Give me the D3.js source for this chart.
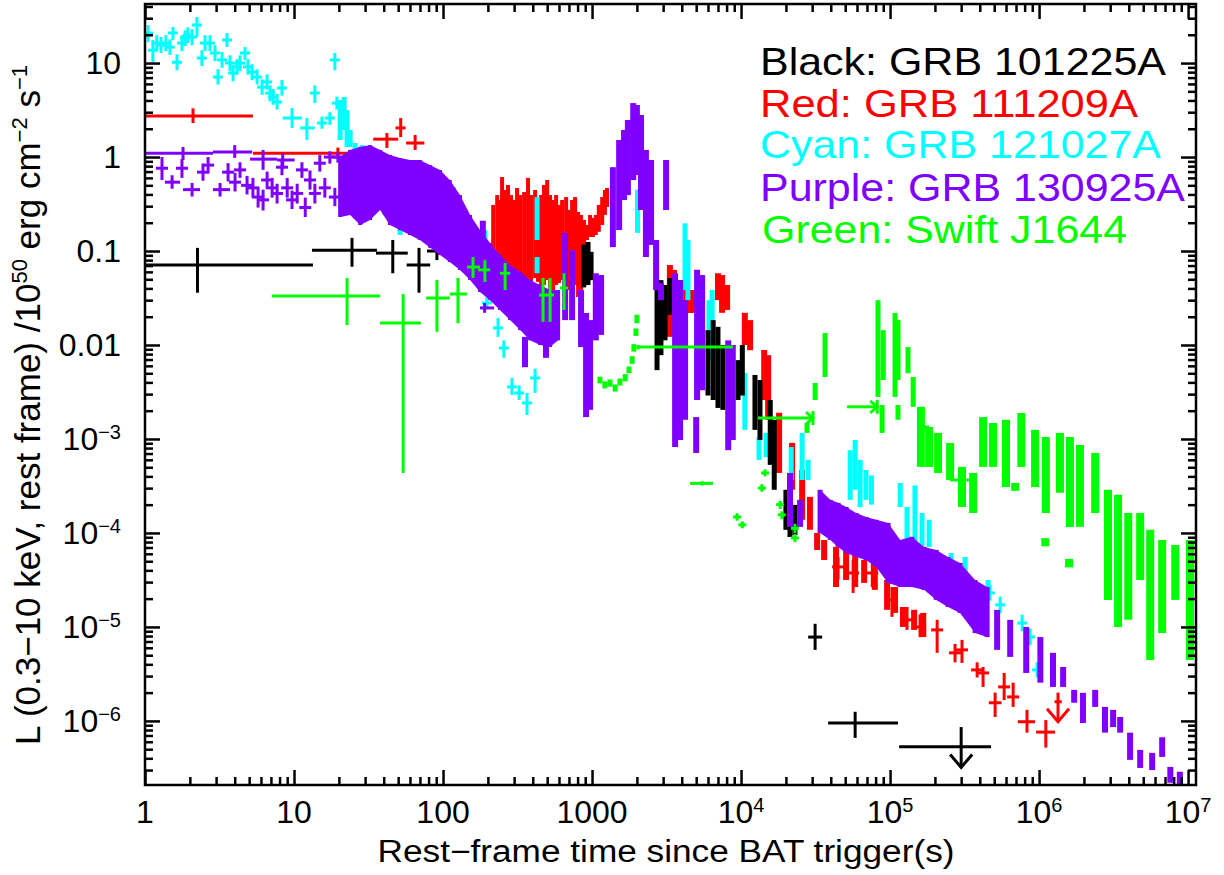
<!DOCTYPE html>
<html>
<head>
<meta charset="utf-8">
<script src="https://cdn.jsdelivr.net/npm/d3@7"></script>
<style>
  body { margin: 0; background: #fff; }
  svg { display: block; }
  text { font-family: "Liberation Sans", Arial, Helvetica, sans-serif; }
</style>
</head>
<body>
<svg id="chart"></svg>
<script>
// ---- data ----
// crosses: [t, L, tLo, tHi, LLo, LHi]
// small crosses: [t, L, LLo, LHi]
// bands (dense clusters): [t, LLo, LHi]

const blackCrosses = [
  [2.25, 0.071, 1, 13.4, 0.036, 0.108],
  [24.5, 0.102, 13.2, 36, 0.068, 0.138],
  [46, 0.095, 35.5, 58, 0.058, 0.131],
  [69, 0.071, 57, 82, 0.036, 0.108],
  [91, 0.1, 78, 103, 0.08, 0.12],
  [3.14e4, 7.8e-6, 2.82e4, 3.5e4, 5.7e-6, 1.08e-5],
  [5.83e4, 9.5e-7, 3.84e4, 1.13e5, 6.6e-7, 1.25e-6]
];
// [t, L, tLo, tHi, Ltop, Ltip]
const blackLimits = [[3.0e5, 5.3e-7, 1.15e5, 4.76e5, 8.6e-7, 3.2e-7]];
const blackBand = [
  [880, 0.041, 0.117], [940, 0.0435, 0.125], [985, 0.049, 0.098],
  [2730, 5.4e-3, 0.0457], [2900, 7.8e-3, 0.049], [3090, 0.0112, 0.0435], [3330, 0.0209, 0.0516],
  [6000, 2.9e-3, 0.0144], [6500, 2.6e-3, 0.0184], [7000, 2.14e-3, 0.0156], [7550, 2.04e-3, 0.01],
  [8400, 2.9e-3, 8.84e-3], [9550, 2.6e-3, 6.9e-3], [1.02e4, 2.9e-3, 0.01],
  [1.24e4, 1.25e-3, 4.8e-3], [1.34e4, 9.76e-4, 4.24e-3], [1.57e4, 5.3e-4, 2.6e-3],
  [1.67e4, 2.88e-4, 1.6e-3], [2.0e4, 1.08e-4, 2.88e-4], [2.13e4, 9.06e-5, 2.55e-4], [2.3e4, 9.5e-5, 1.99e-4]
];

const redCrosses = [
  [2.1, 2.73, 1, 5.3, 2.3, 3.3],
  [19.7, 1.1, 5.3, 24.9, 0.97, 1.26],
  [42, 1.55, 34, 50, 1.25, 1.8],
  [52, 2.04, 48, 56, 1.63, 2.6],
  [65, 1.41, 56.5, 75, 1.19, 1.72],
  [5.07e5, 1.56e-6, 4.6e5, 5.6e5, 1.1e-6, 2.0e-6],
  [8.3e5, 9.8e-7, 7.2e5, 9.4e5, 7.5e-7, 1.31e-6],
  [1.11e6, 7.6e-7, 9.55e5, 1.28e6, 5.2e-7, 1.02e-6]
];
const redSmall = [
  [4.48e4, 4.35e-5, 3.2e-5, 5.5e-5], [5.65e4, 3.75e-5, 2.3e-5, 5.16e-5], [7.6e4, 3.75e-5, 2.66e-5, 5.16e-5],
  [1.03e5, 1.94e-5, 1.28e-5, 2.66e-5], [1.3e5, 1.19e-5, 9.3e-6, 1.63e-5], [1.59e5, 1.0e-5, 7.8e-6, 1.36e-5],
  [2.07e5, 9.3e-6, 5.3e-6, 1.19e-5], [2.73e5, 5.3e-6, 4.2e-6, 6.6e-6], [3.04e5, 5.7e-6, 4.14e-6, 7.28e-6],
  [3.84e5, 3.49e-6, 2.9e-6, 4.2e-6], [4.21e5, 3.24e-6, 2.3e-6, 3.75e-6], [5.83e5, 2.3e-6, 1.67e-6, 3.24e-6],
  [6.7e5, 1.8e-6, 1.41e-6, 2.55e-6]
];
const redLimits = [[1.34e6, 1.6e-6, 1.27e6, 1.42e6, 2.0e-6, 9.8e-7]];
const redBand = [
  [217, 0.0555, 0.309], [231, 0.0492, 0.394], [241, 0.0516, 0.349], [249, 0.0555, 0.613],
  [261, 0.0457, 0.446], [273, 0.0492, 0.504], [286, 0.0435, 0.394], [300, 0.0516, 0.349],
  [314, 0.0469, 0.469], [329, 0.0516, 0.394], [350, 0.0435, 0.424], [372, 0.0492, 0.60],
  [390, 0.0435, 0.394], [415, 0.0516, 0.446], [434, 0.0469, 0.349], [455, 0.0385, 0.394],
  [476, 0.0435, 0.504], [500, 0.0492, 0.57], [523, 0.0358, 0.394], [548, 0.0324, 0.349],
  [574, 0.0435, 0.394], [600, 0.0457, 0.309], [630, 0.0492, 0.349], [670, 0.0469, 0.375],
  [700, 0.0385, 0.273], [735, 0.0435, 0.349], [770, 0.0435, 0.375], [806, 0.0324, 0.26],
  [844, 0.034, 0.242], [884, 0.116, 0.214], [925, 0.131, 0.189], [970, 0.141, 0.242],
  [1015, 0.141, 0.225], [1060, 0.148, 0.242], [1110, 0.16, 0.309], [1170, 0.189, 0.375],
  [1220, 0.242, 0.446], [1260, 0.294, 0.469]
];
const redLate = [
  [3330, 0.0122, 0.071], [3550, 0.030, 0.063], [4280, 0.0219, 0.041], [4690, 0.0219, 0.0385],
  [7000, 0.030, 0.058], [7460, 0.022, 0.0555], [8060, 0.0236, 0.0435],
  [1.06e4, 0.01, 0.022], [1.15e4, 8.8e-3, 0.0184], [1.43e4, 2.6e-3, 8.84e-3], [1.52e4, 1.6e-3, 7.8e-3],
  [1.8e4, 4.35e-4, 1.9e-3], [2.2e4, 2.88e-4, 9.1e-4], [2.57e4, 1.38e-4, 4.68e-4], [2.9e4, 1.08e-4, 2.42e-4],
  [3.24e4, 6.59e-5, 1.0e-4], [3.61e4, 5.16e-5, 8.42e-5], [4.34e4, 2.66e-5, 7.1e-5], [5.07e4, 3.16e-5, 6.6e-5],
  [5.83e4, 2.66e-5, 6.13e-5], [6.7e4, 2.94e-5, 5.16e-5], [7.9e4, 2.48e-5, 4.35e-5], [9.55e4, 1.52e-5, 3.16e-5],
  [1.08e5, 1.41e-5, 2.66e-5], [1.22e5, 1.0e-5, 1.63e-5], [1.45e5, 9.3e-6, 1.52e-5], [1.67e5, 7.8e-6, 1.41e-5]
];

const cyanCrosses = [
  [9.7, 2.6, 8.4, 11.3, 2.04, 3.32],
  [12.2, 2.04, 11, 13.8, 1.52, 2.6]
];
const cyanSmall = [
  [1.05, 20.9, 16.7, 25.4], [1.13, 13.7, 10.2, 17.6], [1.2, 16.3, 13.4, 19.8], [1.28, 15.5, 12.8, 18.9],
  [1.38, 16.3, 13.4, 19.8], [1.47, 14.8, 12.2, 17.9], [1.54, 20.9, 17.6, 24.2], [1.64, 10.2, 8.4, 12.4],
  [1.77, 16.3, 13.4, 19.8], [1.86, 18.4, 15.2, 22.3], [1.94, 19.8, 16.3, 24.0], [2.07, 18.9, 15.5, 22.9],
  [2.23, 25.4, 18.9, 30.9], [2.41, 11.3, 9.3, 13.7], [2.53, 16.3, 13.4, 19.8], [2.73, 16.3, 13.4, 19.8],
  [2.95, 12.8, 10.5, 15.5], [3.09, 7.1, 5.9, 8.6], [3.29, 10.8, 8.9, 13.1], [3.55, 17.6, 14.8, 20.9],
  [3.72, 10.0, 8.2, 12.1], [3.9, 7.83, 6.4, 9.5], [4.15, 9.1, 7.5, 11.0], [4.34, 10.0, 8.2, 12.1],
  [4.69, 12.8, 10.8, 14.8], [4.91, 9.1, 7.5, 11.0], [5.23, 8.0, 6.6, 9.7], [5.65, 7.1, 5.9, 8.6],
  [6.11, 5.55, 4.6, 6.7], [6.6, 6.3, 5.2, 7.6], [6.91, 4.8, 3.9, 5.8], [7.24, 4.35, 3.6, 5.3],
  [7.7, 3.85, 3.2, 4.7], [8.3, 5.42, 4.5, 6.6], [13.8, 4.8, 3.75, 5.8], [15.4, 2.3, 2.0, 2.7],
  [17.4, 2.6, 2.2, 3.0], [18.8, 10.8, 8.4, 12.8], [19.4, 3.75, 3.2, 4.4],
  [197, 0.028, 0.024, 0.033], [234, 0.0152, 0.0122, 0.0194], [256, 9.3e-3, 7.3e-3, 0.0112],
  [290, 3.58e-3, 2.94e-3, 4.46e-3], [324, 3.09e-3, 2.6e-3, 3.7e-3], [366, 2.42e-3, 1.8e-3, 3.09e-3],
  [415, 4.46e-3, 3.09e-3, 5.6e-3],
  [4.69e5, 2.3e-5, 1.9e-5, 2.8e-5], [5.48e5, 1.72e-5, 1.4e-5, 2.1e-5], [7.7e5, 1.1e-5, 9e-6, 1.35e-5],
  [8.71e5, 7.83e-6, 6.4e-6, 9.6e-6], [9.7e5, 3.49e-6, 2.9e-6, 4.2e-6]
];
const cyanBand = [
  [20.4, 1.52, 4.04], [21.7, 1.94, 4.35], [22.7, 1.28, 3.16], [23.8, 1.28, 1.94], [25.7, 1.19, 1.41],
  [28.6, 1.13, 1.34], [32.4, 0.349, 1.19], [40.8, 0.242, 0.929], [51.5, 0.148, 0.504], [65, 0.148, 0.394],
  [82, 0.131, 0.349], [117, 0.294, 0.48], [191, 0.131, 0.167], [428, 0.131, 0.375], [428, 0.058, 0.0863],
  [2020, 0.156, 0.45], [2180, 0.3, 0.93], [4210, 0.0385, 0.197], [4400, 0.030, 0.131],
  [6100, 6.9e-3, 0.030], [6400, 0.0112, 0.0385], [1.06e4, 1.25e-3, 5.04e-3], [1.32e4, 5.98e-4, 1.05e-3],
  [1.47e4, 6.4e-4, 1.16e-3], [2.17e4, 3.66e-4, 8.2e-4], [2.57e4, 3.66e-4, 1.16e-3], [2.82e4, 3.66e-4, 6.0e-4],
  [5.4e4, 2.25e-4, 7.6e-4], [5.83e4, 2.88e-4, 9.76e-4], [6.3e4, 1.89e-4, 6.0e-4], [6.9e4, 2.25e-4, 4.68e-4],
  [7.5e4, 2.0e-4, 4.1e-4], [1.17e5, 1.89e-4, 3.4e-4], [1.3e5, 8.4e-5, 1.89e-4], [1.47e5, 7.1e-5, 3.2e-4],
  [1.64e5, 7.1e-5, 1.63e-4], [1.83e5, 7.1e-5, 1.38e-4], [2.57e5, 4.35e-5, 6.13e-5], [3.19e5, 2.66e-5, 5.55e-5],
  [4.55e5, 2.1e-5, 3.16e-5]
];

const purpleCrosses = [
  [1.8, 1.10, 1.0, 2.86, 0.93, 1.28],
  [4.0, 1.13, 2.86, 5.23, 0.98, 1.34],
  [6.2, 0.95, 5.07, 7.7, 0.73, 1.19],
  [8.4, 0.93, 7.7, 10.1, 0.75, 1.1],
  [1.52, 0.54, 1.36, 1.72, 0.46, 0.64],
  [2.07, 0.45, 1.8, 2.34, 0.38, 0.53],
  [3.19, 0.45, 2.86, 3.72, 0.38, 0.53],
  [190, 0.0248, 177, 220, 0.022, 0.028]
];
const purpleSmall = [
  [1.3, 0.76, 0.57, 1.0], [1.77, 0.76, 0.6, 0.95], [2.45, 0.69, 0.56, 0.85], [2.65, 0.82, 0.67, 1.0],
  [3.61, 0.69, 0.55, 0.86], [4.02, 0.54, 0.43, 0.68], [4.34, 0.73, 0.6, 0.88], [4.84, 0.50, 0.4, 0.63],
  [5.3, 0.47, 0.37, 0.6], [5.74, 0.375, 0.29, 0.48], [6.2, 0.35, 0.27, 0.45], [6.6, 0.57, 0.46, 0.7],
  [7.13, 0.47, 0.37, 0.6], [7.7, 0.41, 0.32, 0.52], [8.3, 0.78, 0.64, 0.95], [9.0, 0.47, 0.37, 0.6],
  [9.7, 0.35, 0.28, 0.44], [10.5, 0.41, 0.32, 0.52], [11.3, 0.73, 0.6, 0.88], [11.9, 0.29, 0.23, 0.37],
  [12.8, 0.57, 0.45, 0.72], [13.8, 0.41, 0.32, 0.52], [14.9, 0.86, 0.7, 1.05], [16.1, 0.47, 0.37, 0.6],
  [17.4, 1.0, 0.85, 1.15], [18.8, 0.375, 0.3, 0.47], [19.7, 1.0, 0.87, 1.12]
];
const purpleEarly = [
  [20.4, 0.23, 1.0], [23.8, 0.242, 1.19], [27.8, 0.189, 1.28], [32.4, 0.214, 1.34], [37.8, 0.273, 1.19],
  [44, 0.189, 1.05], [51.5, 0.167, 0.976], [60, 0.148, 0.93], [70, 0.131, 0.93], [82, 0.108, 0.82],
  [95.5, 0.0906, 0.728], [111, 0.0764, 0.57], [130, 0.0628, 0.394], [152, 0.0492, 0.242],
  [177, 0.0367, 0.167], [207, 0.030, 0.122], [241, 0.0236, 0.0906], [282, 0.0184, 0.071],
  [329, 0.0144, 0.06], [384, 0.0112, 0.0492], [448, 0.01, 0.0435], [523, 0.0095, 0.0385], [592, 0.0112, 0.0385]
];
const purpleBand = [
  [185, 0.13, 0.21], [355, 5.8e-3, 0.0122], [491, 7.3e-3, 0.0122], [660, 0.0184, 0.156], [735, 0.0184, 0.102],
  [844, 9.5e-3, 0.0385], [912, 1.71e-3, 0.0219], [970, 2.04e-3, 0.0184], [1060, 0.0112, 0.058],
  [1150, 0.0128, 0.0555], [1380, 0.11, 0.78], [1520, 0.167, 1.52], [1640, 0.349, 1.94], [1740, 0.394, 2.48],
  [1890, 0.57, 3.75], [2000, 0.643, 3.58], [2130, 0.273, 2.8], [2300, 0.0863, 1.19], [2490, 0.116, 0.93],
  [2690, 0.0385, 0.131], [2900, 0.030, 0.0457], [3140, 0.273, 0.93], [3610, 8.2e-4, 0.058],
  [3900, 9.76e-4, 0.0492], [4210, 1.6e-3, 0.030], [5000, 7.1e-4, 1.71e-3], [5070, 2.6e-3, 0.063],
  [5480, 3.3e-3, 0.0555], [8200, 7.6e-4, 0.0112], [8800, 9.76e-4, 0.01],
  [2.13e4, 1.16e-4, 4.35e-4], [2.49e4, 1.16e-4, 2.25e-4]
];
const purpleLate = [
  [3.39e4, 1.0e-4, 2.88e-4], [3.97e4, 8.42e-5, 2.25e-4], [4.48e4, 7.1e-5, 2.09e-4], [5.07e4, 6.13e-5, 1.89e-4],
  [5.92e4, 5.55e-5, 1.63e-4], [6.9e4, 5.16e-5, 1.48e-4], [8.06e4, 4.35e-5, 1.38e-4], [9.7e4, 2.94e-5, 1.28e-4],
  [1.17e5, 2.66e-5, 8.42e-5], [1.4e5, 2.66e-5, 9.1e-5], [1.69e5, 2.48e-5, 7.1e-5], [2.04e5, 1.94e-5, 6.6e-5],
  [2.45e5, 1.63e-5, 5.55e-5], [2.95e5, 1.41e-5, 4.8e-5], [3.72e5, 8.6e-6, 3.16e-5], [4.48e5, 7.8e-6, 2.66e-5]
];
const purpleTail = [
  [5.23e5, 5.7e-6, 1.52e-5], [6.4e5, 4.8e-6, 1.19e-5], [8.2e5, 3.24e-6, 1.0e-5], [1.02e6, 2.55e-6, 7.8e-6],
  [1.24e6, 2.3e-6, 5.3e-6], [1.45e6, 2.3e-6, 3.75e-6], [1.72e6, 1.56e-6, 2.14e-6], [1.97e6, 9.5e-7, 1.99e-6],
  [2.38e6, 1.41e-6, 2.14e-6], [2.77e6, 7.5e-7, 1.41e-6], [3.14e6, 8.6e-7, 1.31e-6], [3.5e6, 7.5e-7, 1.1e-6],
  [4.08e6, 3.85e-7, 7.5e-7], [4.77e6, 3.16e-7, 4.92e-7], [5.74e6, 3.0e-7, 4.57e-7], [6.7e6, 4.14e-7, 6.7e-7],
  [7.6e6, 2.2e-7, 3.24e-7], [8.8e6, 1.84e-7, 2.88e-7]
];

const greenCrosses = [
  [22.7, 0.0332, 7.1, 37.8, 0.0163, 0.0516],
  [54, 0.0171, 37.8, 71, 4.35e-4, 0.0348],
  [91, 0.0316, 77, 111, 0.0138, 0.0492],
  [126, 0.0349, 111, 145, 0.0171, 0.0516],
  [159, 0.0675, 145, 177, 0.0516, 0.0863],
  [191, 0.063, 172, 207, 0.0469, 0.08],
  [261, 0.058, 241, 282, 0.0385, 0.0745],
  [2040, 9.5e-3, 2040, 8840, 9.0e-3, 1.0e-2],
  [5480, 3.37e-4, 4550, 6490, 3.2e-4, 3.55e-4],
  [3.04e5, 3.66e-4, 2.53e5, 3.61e5, 3.5e-4, 3.8e-4],
  [1.7e5, 1.34e-3, 1.58e5, 1.83e5, 1.28e-3, 1.4e-3]
];
// [tStart, tEnd, L]
const greenArrows = [[1.3e4, 3.04e4, 1.67e-3], [5.15e4, 8.2e4, 2.2e-3]];
const greenSmall = [
  [469, 0.034, 0.0176, 0.0516], [523, 0.034, 0.0176, 0.0516], [649, 0.0405, 0.0236, 0.058],
  [9.4e3, 1.48e-4, 1.35e-4, 1.62e-4], [1.02e4, 1.22e-4, 1.12e-4, 1.33e-4], [1.38e4, 3.0e-4, 2.75e-4, 3.3e-4],
  [1.45e4, 4.35e-4, 4.0e-4, 4.75e-4], [1.83e4, 2.0e-4, 1.8e-4, 2.2e-4], [1.88e4, 1.56e-4, 1.4e-4, 1.7e-4],
  [2.3e4, 1.12e-4, 1.0e-4, 1.25e-4], [2.3e4, 8.84e-5, 8.0e-5, 9.8e-5]
];
const greenBand = [
  [1130, 3.9e-3, 4.6e-3], [1220, 3.45e-3, 4.1e-3], [1320, 3.6e-3, 4.3e-3], [1430, 3.2e-3, 3.8e-3],
  [1540, 3.7e-3, 4.4e-3], [1670, 4.1e-3, 4.9e-3], [1770, 5.0e-3, 5.9e-3], [1860, 6.3e-3, 7.6e-3],
  [1910, 8.5e-3, 0.0102], [1970, 0.0125, 0.015], [2000, 0.017, 0.021],
  [2.77e4, 1.16e-3, 1.48e-3], [3.14e4, 2.6e-3, 3.94e-3], [3.66e4, 4.57e-3, 0.0134],
  [8.3e4, 2.8e-3, 0.030], [8.84e4, 1.16e-3, 2.3e-3], [9.0e4, 4.24e-3, 0.0144], [1.08e5, 2.8e-3, 0.0219],
  [1.13e5, 1.6e-3, 2.3e-3], [1.13e5, 4.24e-3, 0.0184], [1.32e5, 5.0e-3, 9.5e-3], [1.43e5, 2.2e-3, 4.57e-3]
];
const greenLate = [
  [1.61e5, 5.04e-4, 2.2e-3], [1.83e5, 5.04e-4, 1.34e-3], [2.1e5, 4.35e-4, 1.16e-3], [2.53e5, 3.66e-4, 9.06e-4],
  [3.04e5, 1.89e-4, 5.04e-4], [3.61e5, 1.63e-4, 4.35e-4], [4.21e5, 5.04e-4, 1.71e-3], [4.91e5, 5.04e-4, 1.48e-3],
  [6.0e5, 3.08e-4, 1.6e-3], [6.91e5, 2.8e-4, 3.4e-4], [7.6e5, 5.04e-4, 1.89e-3], [9.4e5, 3.08e-4, 1.25e-3],
  [1.1e6, 7.2e-5, 8.8e-5], [1.11e6, 1.63e-4, 1.05e-3], [1.38e6, 2.68e-4, 1.16e-3], [1.59e6, 4.3e-5, 5.3e-5],
  [1.61e6, 1.16e-4, 1.05e-3], [1.88e6, 1.16e-4, 8.63e-4], [2.38e6, 1.63e-4, 7.1e-4], [2.9e6, 1.94e-5, 2.88e-4],
  [3.39e6, 1.0e-5, 2.55e-4], [3.97e6, 1.19e-5, 1.63e-4], [4.77e6, 3.16e-5, 1.63e-4], [5.57e6, 4.46e-6, 1.08e-4],
  [6.7e6, 8.6e-6, 8.42e-5], [8.2e6, 1.94e-5, 7.45e-5], [1.03e7, 4.46e-6, 8.42e-5]
];

const xTickValues = [1, 10, 100, 1000, 1e4, 1e5, 1e6, 1e7];
const xTickLabels = [["1", ""], ["10", ""], ["100", ""], ["1000", ""], ["10", "4"], ["10", "5"], ["10", "6"], ["10", "7"]];
const yTickValues = [10, 1, 0.1, 0.01, 1e-3, 1e-4, 1e-5, 1e-6];
const yTickLabels = [["10", ""], ["1", ""], ["0.1", ""], ["0.01", ""], ["10", "\u22123"], ["10", "\u22124"], ["10", "\u22125"], ["10", "\u22126"]];

const legendNames = ["Black: GRB 101225A", "Red: GRB 111209A", "Cyan: GRB 121027A", "Purple: GRB 130925A", "Green: Swift J1644"];
const legendColors = ["#000000", "#ff0000", "#00ffff", "#8000ff", "#00ff00"];

// ---- layout ----
const width = 1224, height = 875;
const plot = { left: 145, right: 1196, top: 4, bottom: 785 };

const svg = d3.select('#chart').attr('width', width).attr('height', height);

const x = d3.scaleLog().domain([1, 1.13e7]).range([plot.left, plot.right]);
const y = d3.scaleLog().domain([2.08e-7, 42.5]).range([plot.bottom, plot.top]);

svg.append('clipPath').attr('id', 'clip')
  .append('rect')
  .attr('x', plot.left).attr('y', plot.top)
  .attr('width', plot.right - plot.left).attr('height', plot.bottom - plot.top);

const g = svg.append('g').attr('clip-path', 'url(#clip)');

// helpers
function bars(data, color, w) {
  g.append('g').selectAll('line').data(data).enter().append('line')
    .attr('x1', d => x(d[0])).attr('x2', d => x(d[0]))
    .attr('y1', d => y(d[1])).attr('y2', d => y(d[2]))
    .attr('stroke', color).attr('stroke-width', w);
}

function band(data, color) {
  g.append('path').datum(data)
    .attr('fill', color)
    .attr('d', d3.area().x(d => x(d[0])).y0(d => y(d[1])).y1(d => y(d[2])));
}

function crosses(data, color) {
  const s = g.append('g').attr('stroke', color).attr('stroke-width', 3);
  s.selectAll('.h').data(data).enter().append('line')
    .attr('x1', d => x(d[2])).attr('x2', d => x(d[3]))
    .attr('y1', d => y(d[1])).attr('y2', d => y(d[1]));
  s.selectAll('.v').data(data).enter().append('line')
    .attr('x1', d => x(d[0])).attr('x2', d => x(d[0]))
    .attr('y1', d => y(d[4])).attr('y2', d => y(d[5]));
}

function smallCrosses(data, color, half) {
  const s = g.append('g').attr('stroke', color).attr('stroke-width', 3);
  s.selectAll('.h').data(data).enter().append('line')
    .attr('x1', d => x(d[0]) - half).attr('x2', d => x(d[0]) + half)
    .attr('y1', d => y(d[1])).attr('y2', d => y(d[1]));
  s.selectAll('.v').data(data).enter().append('line')
    .attr('x1', d => x(d[0])).attr('x2', d => x(d[0]))
    .attr('y1', d => y(d[2])).attr('y2', d => y(d[3]));
}

function limits(data, color) {
  const s = g.append('g').attr('stroke', color).attr('stroke-width', 3).attr('fill', 'none');
  data.forEach(d => {
    s.append('line').attr('x1', x(d[2])).attr('x2', x(d[3])).attr('y1', y(d[1])).attr('y2', y(d[1]));
    s.append('line').attr('x1', x(d[0])).attr('x2', x(d[0])).attr('y1', y(d[4])).attr('y2', y(d[5]));
    const tx = x(d[0]), ty = y(d[5]);
    s.append('polyline').attr('points', `${tx - 11},${ty - 13} ${tx},${ty} ${tx + 11},${ty - 13}`);
  });
}

function arrows(data, color) {
  const s = g.append('g').attr('stroke', color).attr('stroke-width', 3).attr('fill', 'none');
  data.forEach(d => {
    const x0 = x(d[0]), x1 = x(d[1]), yy = y(d[2]);
    s.append('line').attr('x1', x0).attr('x2', x1).attr('y1', yy).attr('y2', yy);
    s.append('polyline').attr('points', `${x1 - 7},${yy - 6} ${x1},${yy} ${x1 - 7},${yy + 6}`);
    s.append('line').attr('x1', x1).attr('x2', x1).attr('y1', yy - 7).attr('y2', yy + 7);
  });
}

// ---- marks (draw order as in the figure) ----
bars(redBand, '#ff0000', 4);
bars(redLate, '#ff0000', 6);
smallCrosses(redSmall, '#ff0000', 6);
crosses(redCrosses, '#ff0000');
limits(redLimits, '#ff0000');

smallCrosses(cyanSmall, '#00ffff', 5);
crosses(cyanCrosses, '#00ffff');
bars(cyanBand, '#00ffff', 5);

bars(blackBand, '#000000', 5);
crosses(blackCrosses, '#000000');
limits(blackLimits, '#000000');

band(purpleEarly, '#8000ff');
bars(purpleEarly, '#8000ff', 4);
bars(purpleBand, '#8000ff', 6);
band(purpleLate, '#8000ff');
bars(purpleLate, '#8000ff', 5);
bars(purpleTail, '#8000ff', 6);
crosses(purpleCrosses, '#8000ff');
smallCrosses(purpleSmall, '#8000ff', 6);

bars(greenBand, '#00ff00', 5);
bars(greenLate, '#00ff00', 8);
crosses(greenCrosses, '#00ff00');
smallCrosses(greenSmall, '#00ff00', 4);
arrows(greenArrows, '#00ff00');

// ---- axes ----
function isDecade(v) { return Math.abs(Math.log10(v) - Math.round(Math.log10(v))) < 1e-6; }
const xMinor = x.ticks().filter(v => !isDecade(v));
const yMinor = y.ticks().filter(v => !isDecade(v));

function addAxis(axis, tr, vals, size) {
  svg.append('g').attr('transform', tr)
    .call(axis.tickValues(vals).tickSize(-size).tickSizeOuter(0).tickFormat(''))
    .call(a => a.select('.domain').remove())
    .selectAll('line').attr('stroke', '#000').attr('stroke-width', 2.5);
}
addAxis(d3.axisBottom(x), `translate(0,${plot.bottom})`, xTickValues, 15);
addAxis(d3.axisBottom(x), `translate(0,${plot.bottom})`, xMinor, 8);
addAxis(d3.axisTop(x), `translate(0,${plot.top})`, xTickValues, 15);
addAxis(d3.axisTop(x), `translate(0,${plot.top})`, xMinor, 8);
addAxis(d3.axisLeft(y), `translate(${plot.left},0)`, yTickValues, 15);
addAxis(d3.axisLeft(y), `translate(${plot.left},0)`, yMinor, 8);
addAxis(d3.axisRight(y), `translate(${plot.right},0)`, yTickValues, 15);
addAxis(d3.axisRight(y), `translate(${plot.right},0)`, yMinor, 8);

svg.append('rect')
  .attr('x', plot.left).attr('y', plot.top)
  .attr('width', plot.right - plot.left).attr('height', plot.bottom - plot.top)
  .attr('fill', 'none').attr('stroke', '#000').attr('stroke-width', 2.5);

// tick labels
const xl = svg.append('g').selectAll('text').data(xTickValues).enter().append('text')
  .attr('x', d => x(d)).attr('y', 823)
  .attr('text-anchor', 'middle').attr('font-size', 32);
xl.append('tspan').text((d, i) => xTickLabels[i][0]);
xl.append('tspan').attr('dy', -11).attr('font-size', 20).text((d, i) => xTickLabels[i][1]);

const yl = svg.append('g').selectAll('text').data(yTickValues).enter().append('text')
  .attr('x', 121).attr('y', d => y(d) + 11)
  .attr('text-anchor', 'end').attr('font-size', 32);
yl.append('tspan').text((d, i) => yTickLabels[i][0]);
yl.append('tspan').attr('dy', -11).attr('font-size', 20).text((d, i) => yTickLabels[i][1]);

// axis titles
svg.append('text')
  .attr('x', 666).attr('y', 862)
  .attr('text-anchor', 'middle').attr('font-size', 31)
  .attr('textLength', 577).attr('lengthAdjust', 'spacingAndGlyphs')
  .text('Rest\u2212frame time since BAT trigger(s)');

const yt = svg.append('text')
  .attr('transform', 'translate(40,405) rotate(-90)')
  .attr('text-anchor', 'middle').attr('font-size', 35)
  .attr('textLength', 680).attr('lengthAdjust', 'spacingAndGlyphs');
yt.append('tspan').text('L (0.3\u221210 keV, rest frame) /10');
yt.append('tspan').attr('dy', -13).attr('font-size', 22).text('50');
yt.append('tspan').attr('dy', 13).text(' erg cm');
yt.append('tspan').attr('dy', -13).attr('font-size', 22).text('\u22122');
yt.append('tspan').attr('dy', 13).text(' s');
yt.append('tspan').attr('dy', -13).attr('font-size', 22).text('\u22121');

// legend text
const legendWidths = [406, 378, 401, 425, 365];
svg.append('g').selectAll('text').data(legendNames).enter().append('text')
  .attr('x', (d, i) => i === 4 ? 762 : 760)
  .attr('y', (d, i) => [75, 117, 158, 201, 243][i])
  .attr('font-size', 39)
  .attr('fill', (d, i) => legendColors[i])
  .attr('textLength', (d, i) => legendWidths[i]).attr('lengthAdjust', 'spacingAndGlyphs')
  .text(d => d);
</script>
</body>
</html>
